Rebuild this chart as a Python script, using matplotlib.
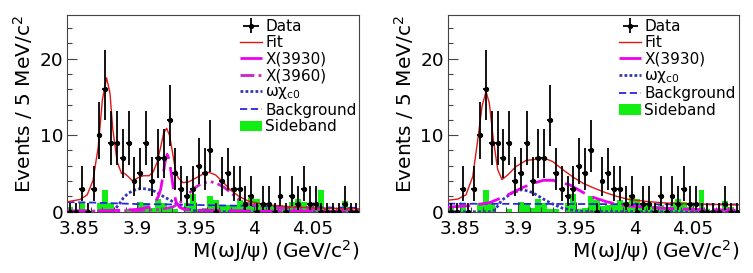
import numpy as np
import matplotlib
matplotlib.use('Agg')
import matplotlib.pyplot as plt
import matplotlib.ticker as mticker
from matplotlib.patches import Patch
from matplotlib.lines import Line2D

plt.rcParams['font.family'] = ['DejaVu Sans']
plt.rcParams['mathtext.fontset'] = 'dejavusans'

# ---- data (5 MeV bins from 3.84 to 4.09 GeV) ----
bin_lo = 3.84
bin_w = 0.005
counts = [0, 0, 3, 0, 3, 10, 16, 9, 9, 7,
          9, 4, 5, 9, 4, 7, 7, 12, 5, 3,
          2, 3, 6, 5, 8, 0, 4, 5, 3, 3,
          1, 2, 0, 1, 1, 0, 2, 0, 2, 1,
          3, 1, 1, 0, 0, 0, 0, 1, 0, 0]
sideband = [0.6, 0, 1.2, 0, 0, 1.2, 2.8, 1.2, 0, 0,
            0.3, 0, 1.3, 1.2, 0.5, 1.7, 1.2, 0.4, 0.4, 0,
            1.2, 2.3, 0.4, 0.5, 2.0, 1.5, 0.7, 0.9, 0.9, 1.5,
            1.3, 2.2, 1.7, 0.9, 1.1, 0.7, 0.9, 0.6, 1.3, 1.7,
            1.3, 0.6, 0.4, 2.9, 0.4, 0, 0.3, 1.4, 0.6, 0]
# Poisson 68% interval ends by count (zero bins drawn short)
err_low = [0, 0.17, 0.71, 1.37, 2.09, 2.84, 3.62, 4.42, 5.23, 6.06,
           6.89, 7.73, 8.59, 9.44, 10.3, 11.17, 12.04]
err_high = [1.15, 3.30, 4.64, 5.92, 7.16, 8.38, 9.58, 10.77, 11.95, 13.11,
            14.27, 15.42, 16.56, 17.70, 18.83, 19.96, 21.08]

# ---- left panel curves ----
fitA_x = [3.840, 3.851, 3.857, 3.862, 3.8665, 3.870, 3.8736, 3.8765, 3.879, 3.8827,
          3.8864, 3.889, 3.892, 3.896, 3.900, 3.905, 3.910, 3.9135, 3.917, 3.920,
          3.9225, 3.925, 3.9275, 3.930, 3.9325, 3.935, 3.939, 3.944, 3.950, 3.956,
          3.961, 3.967, 3.973, 3.980, 3.987, 3.995, 4.005, 4.015, 4.030, 4.050,
          4.070, 4.090]
fitA_y = [1.3, 1.6, 2.2, 4.1, 8.5, 14.6, 17.5, 15.5, 10.7, 6.5,
          5.0, 5.0, 4.6, 4.0, 4.4, 4.7, 4.7, 5.2, 6.5, 8.5,
          10.3, 10.9, 10.0, 7.8, 5.5, 4.4, 3.8, 3.9, 4.4, 4.9,
          5.15, 4.8, 3.9, 2.8, 2.0, 1.4, 1.05, 0.85, 0.65, 0.5,
          0.42, 0.38]
x3930A_x = [3.840, 3.880, 3.900, 3.910, 3.915, 3.918, 3.920, 3.922, 3.924, 3.9255,
            3.927, 3.929, 3.931, 3.933, 3.936, 3.940, 3.950, 4.000, 4.090]
x3930A_y = [0.1, 0.15, 0.3, 0.6, 1.2, 2.0, 3.0, 4.8, 6.8, 7.5,
            6.9, 5.0, 2.8, 1.3, 0.6, 0.3, 0.2, 0.1, 0.05]
x3960A_x = [3.840, 3.900, 3.920, 3.930, 3.936, 3.942, 3.948, 3.955, 3.962, 3.968,
            3.974, 3.980, 3.985, 3.990, 3.995, 4.005, 4.020, 4.040, 4.060, 4.090]
x3960A_y = [0.05, 0.15, 0.3, 0.6, 1.1, 2.0, 3.0, 3.7, 3.95, 3.7,
            3.2, 2.5, 1.8, 1.3, 1.0, 0.7, 0.5, 0.35, 0.3, 0.25]
chiA_x = [3.840, 3.875, 3.880, 3.884, 3.888, 3.892, 3.897, 3.903, 3.909, 3.915,
          3.921, 3.927, 3.933, 3.938, 3.944, 3.950, 3.960, 4.090]
chiA_y = [0, 0, 0.2, 0.9, 1.8, 2.4, 2.8, 3.05, 2.95, 2.65,
          2.1, 1.6, 1.1, 0.6, 0.3, 0.1, 0, 0]
bkgA_x = [3.840, 3.860, 3.880, 3.900, 3.930, 3.960, 4.000, 4.040, 4.090]
bkgA_y = [1.25, 1.2, 1.1, 1.0, 0.95, 0.85, 0.75, 0.6, 0.5]

# ---- right panel curves ----
fitB_x = [3.840, 3.8483, 3.8554, 3.8612, 3.8655, 3.8692, 3.8726, 3.8754, 3.8789, 3.8826,
          3.8863, 3.8912, 3.8983, 3.9069, 3.9155, 3.9226, 3.9298, 3.9384, 3.9475, 3.956,
          3.965, 3.975, 3.985, 3.995, 4.010, 4.025, 4.050, 4.070, 4.090]
fitB_y = [1.5, 1.65, 2.2, 4.6, 9.4, 13.8, 15.7, 14.2, 9.4, 5.5,
          4.2, 4.8, 5.9, 6.7, 6.85, 7.0, 6.55, 5.5, 4.5, 3.7,
          3.1, 2.5, 2.0, 1.6, 1.35, 1.15, 1.0, 0.95, 0.9]
x3930B_x = [3.840, 3.860, 3.876, 3.890, 3.9046, 3.915, 3.9217, 3.930, 3.9446, 3.956,
            3.966, 3.976, 3.986, 3.996, 4.010, 4.025, 4.050, 4.090]
x3930B_y = [0.6, 0.8, 1.2, 2.1, 3.2, 3.8, 4.1, 4.1, 3.5, 2.5,
            1.8, 1.3, 0.95, 0.75, 0.6, 0.45, 0.3, 0.2]
chiB_x = [3.840, 3.876, 3.8797, 3.883, 3.886, 3.8955, 3.904, 3.9126, 3.9212, 3.9298,
          3.9384, 3.950, 3.960, 4.090]
chiB_y = [0, 0, 0.2, 0.8, 1.5, 2.5, 2.9, 2.5, 1.7, 1.0,
          0.45, 0.1, 0, 0]
bkgB_x = [3.840, 3.960, 4.090]
bkgB_y = [1.05, 1.0, 0.95]

GREEN = '#11ee11'
RED = '#e01515'
MAGENTA = '#ee00ee'
MAGENTA2 = '#cc22cc'
NAVY = '#3535b5'
BLUE = '#2828e0'

nbins = len(counts)
edges = bin_lo + bin_w * np.arange(nbins + 1)
centers = edges[:-1] + bin_w / 2
cnt = np.array(counts)
ylo = cnt - np.array([err_low[n] for n in counts])
yhi = np.array([err_high[n] for n in counts]) - cnt


def draw_panel(ax, curves, with3960, leg_x):
    ax.bar(centers, sideband, width=bin_w, color=GREEN, linewidth=0, zorder=1)
    for cx, cy, col, ls, lw in curves:
        ax.plot(cx, cy, color=col, linestyle=ls, linewidth=lw, zorder=3)
    ax.errorbar(centers, cnt, xerr=bin_w / 2, yerr=[ylo, yhi], fmt='o',
                color='black', ms=2.8, elinewidth=1.3, capsize=0, zorder=4)

    ax.set_xlim(3.84, 4.09)
    ax.set_ylim(0, 25.7)
    ax.xaxis.set_major_locator(mticker.MultipleLocator(0.05))
    ax.xaxis.set_minor_locator(mticker.MultipleLocator(0.01))
    ax.xaxis.set_major_formatter(mticker.FormatStrFormatter('%g'))
    ax.yaxis.set_major_locator(mticker.MultipleLocator(10))
    ax.yaxis.set_minor_locator(mticker.MultipleLocator(2))
    ax.tick_params(which='both', direction='in', labelsize=13.3, width=0.8,
                   color='#444444')
    ax.tick_params(which='major', length=7)
    ax.tick_params(which='minor', length=3.5)
    ax.tick_params(axis='x', pad=6)
    ax.tick_params(axis='y', pad=3)
    for s in ax.spines.values():
        s.set_linewidth(0.8)
        s.set_color('#444444')
    ax.set_xlabel('M(ωJ/ψ) (GeV/c$^{2}$)', fontsize=14.5, loc='right',
                  labelpad=0)
    ax.set_ylabel('Events / 5 MeV/c$^{2}$', fontsize=14.5, loc='top', labelpad=3)

    handles = [
        ax.errorbar([], [], xerr=[], yerr=[], fmt='o', color='black', ms=2.8,
                    elinewidth=1.3, capsize=0),
        Line2D([], [], color=RED, lw=1.0),
        Line2D([], [], color=MAGENTA, lw=2.0, linestyle=(0, (8, 3))),
    ]
    labels = ['Data', 'Fit', 'X(3930)']
    if with3960:
        handles.append(Line2D([], [], color=MAGENTA2, lw=2.0,
                              linestyle=(0, (5, 1.5, 1, 1.5, 1, 1.5))))
        labels.append('X(3960)')
    handles += [Line2D([], [], color=NAVY, lw=2.0, linestyle=(0, (1, 0.8))),
                Line2D([], [], color=BLUE, lw=1.3, linestyle=(0, (4, 2))),
                Patch(facecolor=GREEN, edgecolor='none')]
    labels += ['ωχ$_{\\mathrm{c0}}$', 'Background', 'Sideband']
    ax.legend(handles, labels, loc='upper left', bbox_to_anchor=(leg_x, 0.98),
              frameon=False, fontsize=11, handlelength=1.45, handletextpad=0.2,
              labelspacing=0.09, borderpad=0, borderaxespad=0)


fig = plt.figure(figsize=(7.53, 2.73), dpi=100)
ax1 = fig.add_axes([0.0894, 0.2245, 0.3878, 0.7205])
ax2 = fig.add_axes([0.595, 0.2245, 0.387, 0.7205])

draw_panel(ax1, [
    (bkgA_x, bkgA_y, BLUE, (0, (4, 2)), 1.3),
    (chiA_x, chiA_y, NAVY, (0, (1, 0.8)), 2.0),
    (x3960A_x, x3960A_y, MAGENTA2, (0, (5, 1.5, 1, 1.5, 1, 1.5)), 2.0),
    (x3930A_x, x3930A_y, MAGENTA, (0, (8, 3)), 2.0),
    (fitA_x, fitA_y, RED, '-', 1.0),
], True, 0.591)

draw_panel(ax2, [
    (bkgB_x, bkgB_y, BLUE, (0, (4, 2)), 1.3),
    (chiB_x, chiB_y, NAVY, (0, (1, 0.8)), 2.0),
    (x3930B_x, x3930B_y, MAGENTA, (0, (8, 3)), 2.0),
    (fitB_x, fitB_y, RED, '-', 1.0),
], False, 0.587)

plt.savefig('out.png', dpi=100)
plt.close()
